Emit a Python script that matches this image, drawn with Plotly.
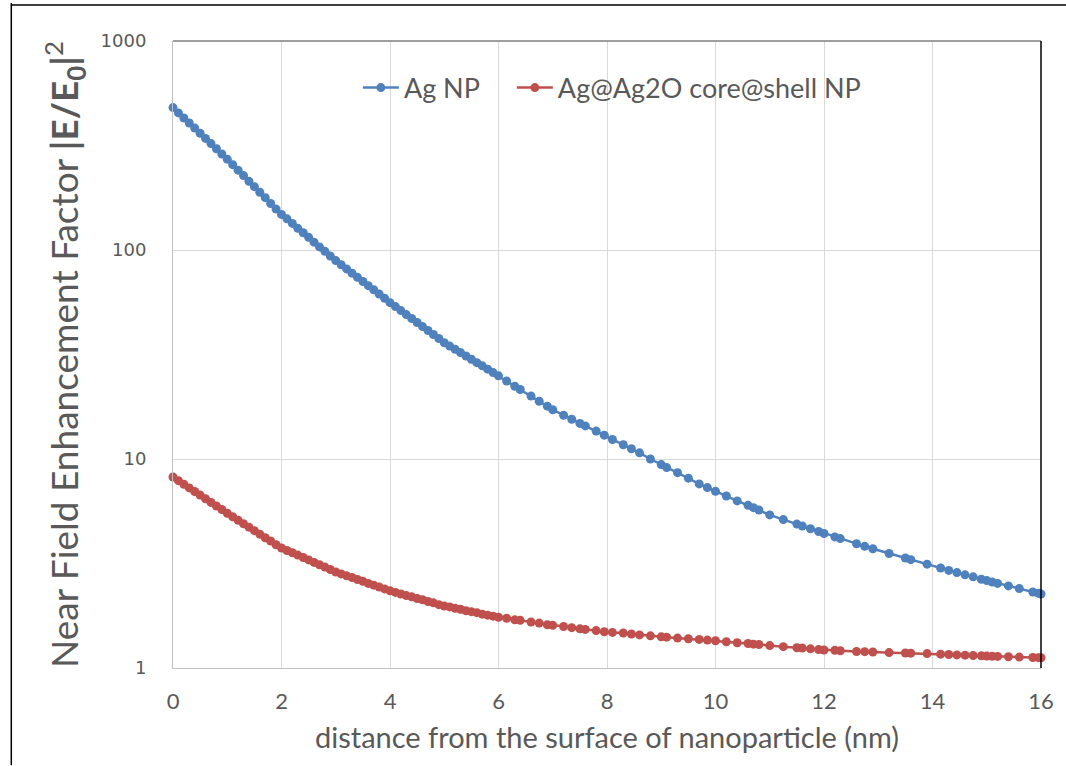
import plotly.graph_objects as go

# distance from surface (nm)
distance_nm = [
    0.0, 0.1, 0.2, 0.3, 0.4, 0.5, 0.6, 0.7, 0.8, 0.9,
    1.0, 1.1, 1.2, 1.3, 1.4, 1.5, 1.6, 1.7, 1.8, 1.9,
    2.0, 2.1, 2.2, 2.3, 2.4, 2.5, 2.6, 2.7, 2.8, 2.9,
    3.0, 3.1, 3.2, 3.3, 3.4, 3.5, 3.6, 3.7, 3.8, 3.9,
    4.0, 4.1, 4.2, 4.3, 4.4, 4.5, 4.6, 4.7, 4.8, 4.9,
    5.0, 5.1, 5.2, 5.3, 5.4, 5.5, 5.6, 5.7, 5.8, 5.9,
    6.0, 6.15, 6.3, 6.4, 6.6, 6.75, 6.9, 7.0, 7.2, 7.35,
    7.5, 7.6, 7.8, 7.95, 8.1, 8.3, 8.45, 8.6, 8.8, 9.0,
    9.1, 9.3, 9.5, 9.7, 9.85, 10.0, 10.2, 10.4, 10.6, 10.7,
    10.8, 11.0, 11.25, 11.5, 11.6, 11.75, 11.9, 12.0, 12.2, 12.3,
    12.6, 12.75, 12.9, 13.2, 13.5, 13.6, 13.9, 14.15, 14.3, 14.45,
    14.6, 14.75, 14.9, 15.0, 15.1, 15.2, 15.4, 15.6, 15.85, 15.95,
    16.0,
]

ag_np = [
    480, 453, 428, 405, 383, 362, 342, 323, 305, 288,
    272, 256, 241, 227, 213, 201, 189, 178, 167, 157,
    148, 141, 134, 127, 121, 115, 109, 103.5, 98.5, 93.5,
    89, 85, 81.2, 77.5, 74, 70.7, 67.5, 64.5, 61.6, 58.8,
    56, 53.6, 51.3, 49.1, 47, 45, 43, 41.2, 39.4, 37.7,
    36, 34.7, 33.5, 32.3, 31.1, 30, 28.9, 27.9, 26.9, 25.9,
    25, 23.6, 22.3, 21.5, 20.0, 18.9, 17.9, 17.2, 16.2, 15.5,
    14.8, 14.4, 13.6, 13.0, 12.4, 11.7, 11.2, 10.7, 10.0, 9.4,
    9.1, 8.6, 8.1, 7.6, 7.3, 7.0, 6.65, 6.3, 6.0, 5.85,
    5.7, 5.4, 5.13, 4.88, 4.78, 4.64, 4.5, 4.4, 4.24, 4.16,
    3.93, 3.82, 3.72, 3.53, 3.36, 3.30, 3.14, 3.01, 2.93, 2.86,
    2.79, 2.73, 2.66, 2.62, 2.58, 2.54, 2.47, 2.40, 2.31, 2.28,
    2.26,
]

ag_ag2o = [
    8.2, 7.88, 7.57, 7.27, 6.99, 6.72, 6.45, 6.2, 5.96, 5.73,
    5.5, 5.29, 5.09, 4.9, 4.72, 4.54, 4.37, 4.2, 4.05, 3.89,
    3.75, 3.65, 3.56, 3.47, 3.38, 3.29, 3.2, 3.12, 3.04, 2.96,
    2.88, 2.82, 2.76, 2.71, 2.65, 2.6, 2.54, 2.49, 2.44, 2.39,
    2.34, 2.30, 2.26, 2.22, 2.19, 2.15, 2.12, 2.08, 2.05, 2.01,
    1.98, 1.96, 1.93, 1.91, 1.88, 1.86, 1.84, 1.81, 1.79, 1.77,
    1.75, 1.73, 1.70, 1.69, 1.66, 1.64, 1.61, 1.60, 1.58, 1.56,
    1.54, 1.53, 1.51, 1.49, 1.48, 1.47, 1.455, 1.44, 1.425, 1.41,
    1.405, 1.39, 1.38, 1.37, 1.36, 1.35, 1.335, 1.32, 1.31, 1.30,
    1.295, 1.28, 1.265, 1.25, 1.245, 1.235, 1.225, 1.22, 1.215, 1.21,
    1.20, 1.197, 1.193, 1.185, 1.18, 1.178, 1.172, 1.165, 1.16, 1.155,
    1.152, 1.148, 1.143, 1.14, 1.138, 1.136, 1.132, 1.128, 1.123, 1.121,
    1.12,
]

x_ticks = [0, 2, 4, 6, 8, 10, 12, 14, 16]
y_ticks = [1, 10, 100, 1000]
y_tick_text = ["1", "10", "100", "1000"]

BLUE = "#4F81BD"
RED = "#C0504D"
GRAY_TXT = "#595959"

fig = go.Figure()
fig.add_trace(go.Scatter(
    x=distance_nm, y=ag_np, name="Ag NP\u00a0\u00a0\u00a0\u00a0", mode="lines+markers",
    line=dict(color=BLUE, width=2.5), marker=dict(color=BLUE, size=9),
    cliponaxis=False,
))
fig.add_trace(go.Scatter(
    x=distance_nm, y=ag_ag2o, name="Ag@Ag2O core@shell NP", mode="lines+markers",
    line=dict(color=RED, width=2.5), marker=dict(color=RED, size=9),
    cliponaxis=False,
))

fig.update_layout(
    width=1066, height=766, autosize=False,
    paper_bgcolor="white", plot_bgcolor="white",
    margin=dict(l=173, r=21, t=41, b=98),
    font=dict(family="Lato", color=GRAY_TXT),
    showlegend=True,
    legend=dict(
        orientation="h", x=0.213, y=0.925, xanchor="left", yanchor="middle",
        bgcolor="rgba(0,0,0,0)", font=dict(family="Lato", size=27, color=GRAY_TXT),
        itemwidth=36, tracegroupgap=0,
    ),
    xaxis=dict(
        range=[0, 16], tickvals=x_ticks, showgrid=True, gridcolor="#D9D9D9", gridwidth=1,
        zeroline=False, showline=True, linecolor="#BFBFBF", linewidth=1,
        ticks="", ticklabelstandoff=14,
        tickfont=dict(family="Lato", size=22, color=GRAY_TXT),
        title=dict(text="distance from the surface of nanoparticle (nm)",
                   font=dict(family="Lato", size=29, color=GRAY_TXT), standoff=14),
    ),
    yaxis=dict(
        type="log", range=[0, 3], tickvals=y_ticks, ticktext=y_tick_text,
        showgrid=True, gridcolor="#D9D9D9", gridwidth=1,
        zeroline=False, showline=True, linecolor="#BFBFBF", linewidth=1,
        ticks="", ticklabelstandoff=22,
        tickfont=dict(family="DejaVu Sans", size=18, color=GRAY_TXT),
        title=dict(text="Near Field Enhancement Factor <b>|E/E<sub>0</sub>|</b><sup>2</sup>",
                   font=dict(family="Lato", size=37, color=GRAY_TXT), standoff=10),
    ),
    shapes=[
        dict(type="line", xref="paper", yref="paper", x0=0, x1=1, y0=1, y1=1,
             line=dict(color="#7F7F7F", width=1.5)),
        dict(type="line", xref="paper", yref="paper", x0=1, x1=1, y0=0, y1=1,
             line=dict(color="black", width=1.5)),
        dict(type="line", xref="paper", yref="paper", x0=-0.1863, x1=-0.1863,
             y0=-0.155, y1=1.0606, line=dict(color="black", width=1.5)),
        dict(type="line", xref="paper", yref="paper", x0=-0.1863, x1=1.03,
             y0=1.0574, y1=1.0574, line=dict(color="black", width=1.5)),
    ],
)

fig.write_html("out.html")
